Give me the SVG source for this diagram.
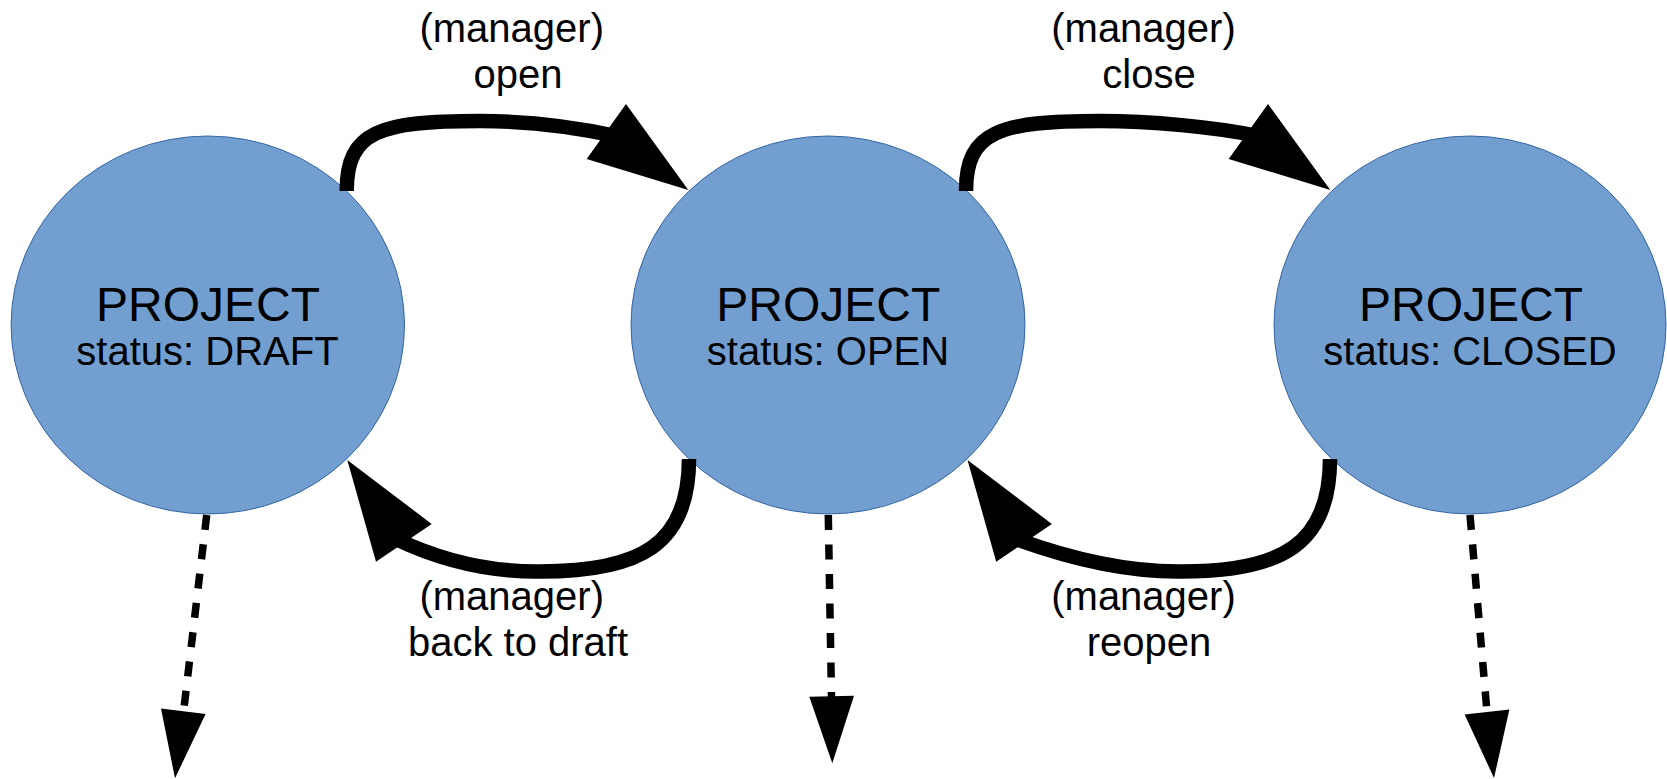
<svg xmlns="http://www.w3.org/2000/svg" width="1667" height="779" viewBox="0 0 1667 779">
<style>
.node{fill:#729fcf;stroke:#3465a4;stroke-width:1}
.t1{font-family:"Liberation Sans",Arial,sans-serif;font-size:48px;fill:#000;text-anchor:middle}
.t2{font-family:"Liberation Sans",Arial,sans-serif;font-size:40px;fill:#000;text-anchor:middle}
.lbl{font-family:"Liberation Sans",Arial,sans-serif;font-size:40px;fill:#000;text-anchor:middle}
.solid{fill:none;stroke:#000;stroke-width:14.5}
.dash{fill:none;stroke:#000;stroke-width:7.5;stroke-dasharray:15 14.5}
.head{fill:#000;stroke:none}
</style>
<rect width="1667" height="779" fill="#fff"/>
<g id="node-draft">
<ellipse class="node" cx="207.8" cy="325" rx="196.7" ry="189"/>
<text class="t1" x="208" y="320.5">PROJECT</text>
<text class="t2" x="207.5" y="365">status: DRAFT</text>
</g>
<g id="node-open">
<ellipse class="node" cx="828" cy="325" rx="197" ry="189"/>
<text class="t1" x="828.3" y="320.5">PROJECT</text>
<text class="t2" x="828" y="365">status: OPEN</text>
</g>
<g id="node-closed">
<ellipse class="node" cx="1470" cy="325" rx="196" ry="189"/>
<text class="t1" x="1471" y="320.5">PROJECT</text>
<text class="t2" x="1470" y="365">status: CLOSED</text>
</g>
<g id="connectors">
<path class="solid" d="M346.7,191 C346.7,131 380,121 480,121 C530,121 575,127 616,136"/>
<polygon class="head" points="626,104 586.7,159 688.3,190"/>
<path class="solid" d="M689,459 C689,545 640,571.5 540,571.5 C490,572 440,560 396,539"/>
<polygon class="head" points="431.7,524 376,561.7 347.3,460"/>
<path class="solid" d="M966,191 C966,131 1000,121 1100,121 C1150,121 1215,127 1258,136"/>
<polygon class="head" points="1268,104 1228.7,159 1330.3,190"/>
<path class="solid" d="M1330,459 C1330,545 1281,571.5 1181,571.5 C1128,572 1074,560 1016,539"/>
<polygon class="head" points="1051.9,524 996.2,561.7 967.5,460"/>
<path class="dash" d="M206.7,515 L184,708"/>
<polygon class="head" points="161,708.5 205.6,714.1 175,778.3"/>
<path class="dash" d="M828.3,515 L831.5,698"/>
<polygon class="head" points="809.3,696.7 854,695.7 832.3,763.3"/>
<path class="dash" d="M1470,515 L1487,712"/>
<polygon class="head" points="1464.6,714.4 1509.4,709.6 1494,778"/>
</g>
<g id="labels">
<text class="lbl" x="511.7" y="42">(manager)</text>
<text class="lbl" x="518" y="88">open</text>
<text class="lbl" x="511.7" y="610">(manager)</text>
<text class="lbl" x="518" y="656">back to draft</text>
<text class="lbl" x="1143.5" y="42">(manager)</text>
<text class="lbl" x="1149" y="88">close</text>
<text class="lbl" x="1143.5" y="610">(manager)</text>
<text class="lbl" x="1149" y="656">reopen</text>
</g>
</svg>
